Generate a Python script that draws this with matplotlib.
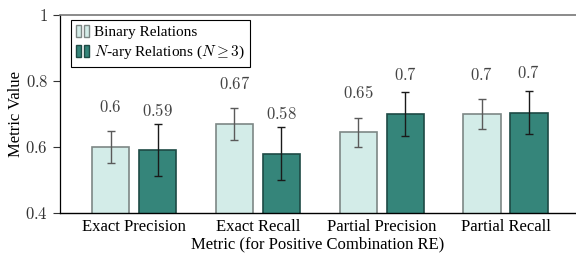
import matplotlib as mpl
mpl.use("Agg")
import matplotlib.pyplot as plt
import numpy as np
from matplotlib.patches import Patch
from matplotlib.legend_handler import HandlerTuple
from matplotlib.ticker import FuncFormatter

plt.rcParams['font.family'] = ['Liberation Serif', 'DejaVu Serif']
plt.rcParams['mathtext.fontset'] = 'cm'

# data
metrics = ["Exact Precision", "Exact Recall", "Partial Precision", "Partial Recall"]
binary_vals = [0.60, 0.67, 0.645, 0.70]
binary_err = [0.047, 0.048, 0.044, 0.046]
binary_labels = ["0.6", "0.67", "0.65", "0.7"]
nary_vals = [0.59, 0.58, 0.70, 0.704]
nary_err = [0.079, 0.08, 0.066, 0.066]
nary_labels = ["0.59", "0.58", "0.7", "0.7"]

light_fill, light_edge = "#d3ece8", "#7d8785"
dark_fill, dark_edge = "#35857a", "#1e4a45"

fig = plt.figure(figsize=(5.76, 2.56), dpi=100)
ax = fig.add_axes([60/576, 1 - 213/256, 516/576, 198/256])

x = np.arange(len(metrics))
w = 0.3
off = 0.19

ax.bar(x - off, binary_vals, w, bottom=0, color=light_fill, edgecolor=light_edge, linewidth=1.2)
ax.bar(x + off, nary_vals, w, bottom=0, color=dark_fill, edgecolor=dark_edge, linewidth=1.2)
ax.errorbar(x - off, binary_vals, yerr=binary_err, fmt='none', ecolor="#5a5a5a", elinewidth=1.0, capsize=3, capthick=1.0)
ax.errorbar(x + off, nary_vals, yerr=nary_err, fmt='none', ecolor="#1a1a1a", elinewidth=1.0, capsize=3, capthick=1.0)

# value labels above bars
for xi, v, lab in zip(x - off, binary_vals, binary_labels):
    ax.text(xi, v + 0.118, f"${lab}$", ha='center', va='center', fontsize=12, color="#444444")
for xi, v, lab in zip(x + off, nary_vals, nary_labels):
    ax.text(xi, v + 0.118, f"${lab}$", ha='center', va='center', fontsize=12, color="#444444")

ax.set_ylim(0.4, 1.0)
ax.set_xlim(-0.6, 3.57)
ax.set_yticks([0.4, 0.6, 0.8, 1.0])
ax.yaxis.set_major_formatter(FuncFormatter(lambda v, p: f"${v:g}$"))
ax.set_xticks(x)
ax.set_xticklabels(metrics, fontsize=12)
ax.tick_params(axis='x', length=0, pad=4)
ax.tick_params(axis='y', length=5, width=0.8, labelsize=12, color="#333333", labelcolor="#333333")
ax.set_ylabel("Metric Value", fontsize=12, labelpad=1)
ax.set_xlabel("Metric (for Positive Combination RE)", fontsize=12, labelpad=1.5)

ax.spines['right'].set_visible(False)
ax.spines['top'].set_color("#777777")
ax.spines['top'].set_linewidth(1.2)
ax.spines['left'].set_linewidth(0.9)
ax.spines['bottom'].set_linewidth(1.0)

h1 = (Patch(facecolor=light_fill, edgecolor=light_edge, linewidth=1),
      Patch(facecolor=light_fill, edgecolor=light_edge, linewidth=1))
h2 = (Patch(facecolor=dark_fill, edgecolor=dark_edge, linewidth=1),
      Patch(facecolor=dark_fill, edgecolor=dark_edge, linewidth=1))
leg = ax.legend([h1, h2], ["Binary Relations", r"$N$-ary Relations ($N \geq 3$)"],
                handler_map={tuple: HandlerTuple(ndivide=None, pad=0.2)},
                loc='upper left', bbox_to_anchor=(0.021, 0.975), fontsize=11,
                handlelength=0.85, handleheight=0.8, handletextpad=0.3,
                borderpad=0.35, borderaxespad=0, labelspacing=0.3, fancybox=False,
                framealpha=1, edgecolor="black")
leg.get_frame().set_linewidth(0.8)

fig.savefig("out.png", dpi=100)
